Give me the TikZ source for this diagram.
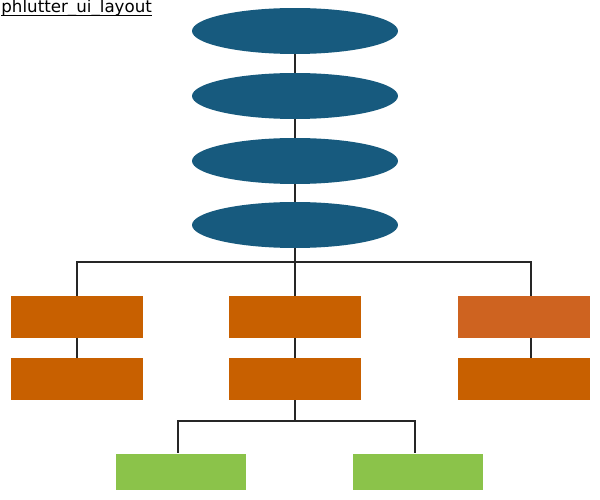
\documentclass[tikz,border=0pt]{standalone}
\usepackage{fontspec}
\newfontfamily\titlefont{DejaVu Sans}
\usepackage{tikz}
\usetikzlibrary{positioning,shapes.geometric}

\definecolor{navy}{RGB}{23,90,126}
\definecolor{rust}{RGB}{200,96,0}
\definecolor{rustlight}{RGB}{206,99,32}
\definecolor{leaf}{RGB}{139,195,74}

\tikzset{
  layer/.style={ellipse, fill=navy, minimum width=4.12cm, minimum height=0.92cm, inner sep=0pt},
  widget/.style={rectangle, fill=rust, minimum width=2.64cm, minimum height=0.84cm, inner sep=0pt},
  leafbox/.style={rectangle, fill=leaf, minimum width=2.62cm, minimum height=0.74cm, inner sep=0pt},
  wire/.style={draw=black!85, line width=1.1pt}
}

\begin{document}
\begin{tikzpicture}[x=0.02cm, y=-0.02cm]
  \useasboundingbox (0,0) rectangle (600,500);
  \node[font=\titlefont\fontsize{9.5}{11}\selectfont, anchor=base west, inner sep=0pt] (title) at (1,13) {phlutter\_ui\_layout};
  \draw[line width=0.5pt] ([yshift=-1.5pt]title.base west) -- ([yshift=-1.5pt]title.base east);
  % top chain
  \node[layer] (e1) at (295,31) {};
  \node[layer] (e2) at (295,96) {};
  \node[layer] (e3) at (295,161) {};
  \node[layer] (e4) at (295,225) {};
  % widgets
  \node[widget] (b1) at (77,317) {};
  \node[widget] (b2) at (295,317) {};
  \node[widget, fill=rustlight] (b3) at (524,317) {};
  \node[widget] (c1) at (77,379) {};
  \node[widget] (c2) at (295,379) {};
  \node[widget] (c3) at (524,379) {};
  % leaves
  \node[leafbox] (g1) at (181,472) {};
  \node[leafbox] (g2) at (418,472) {};
  \coordinate (f1) at (295,262);
  \coordinate (f2) at (295,421);
  \draw[wire] (e1.south) -- (e2.north);
  \draw[wire] (e2.south) -- (e3.north);
  \draw[wire] (e3.south) -- (e4.north);
  \draw[wire] (e4.south) -- (f1);
  \draw[wire] (f1) -| (b1.north);
  \draw[wire] (f1) -| ([xshift=0.14cm]b3.north);
  \draw[wire] (f1) -- (b2.north);
  \draw[wire] (b1.south) -- (c1.north);
  \draw[wire] (b2.south) -- (c2.north);
  \draw[wire] ([xshift=0.14cm]b3.south) -- ([xshift=0.14cm]c3.north);
  \draw[wire] (c2.south) -- (f2);
  \draw[wire] (f2) -| ([xshift=-0.06cm]g1.north);
  \draw[wire] (f2) -| ([xshift=-0.06cm]g2.north);
\end{tikzpicture}
\end{document}
